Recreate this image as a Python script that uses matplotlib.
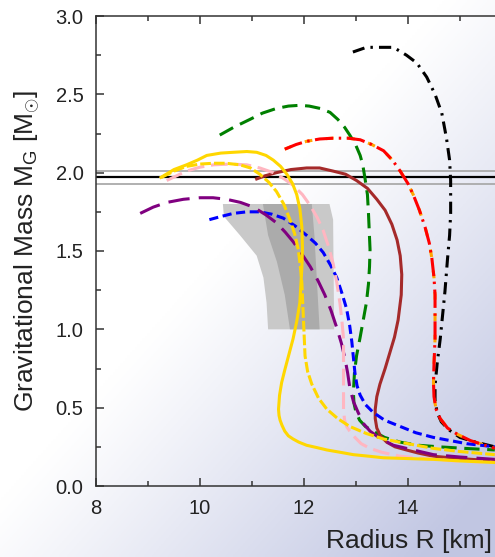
import matplotlib
matplotlib.use("Agg")
import matplotlib.pyplot as plt
import numpy as np

plt.rcParams['font.family'] = ['Liberation Sans', 'DejaVu Sans']
plt.rcParams['mathtext.fontset'] = 'custom'
plt.rcParams['mathtext.rm'] = 'Liberation Sans'
plt.rcParams['mathtext.it'] = 'Liberation Sans:italic'

# mass-radius curves (R in km, M in solar masses)
black_R = [12.94, 13.2, 13.53, 13.72, 13.97, 14.17, 14.36, 14.52, 14.65, 14.74, 14.80, 14.82, 14.82, 14.80, 14.76, 14.71,
           14.62, 14.56, 14.52, 14.52, 14.56, 14.64, 14.78, 15.0, 15.3, 15.67]
black_M = [2.77, 2.80, 2.80, 2.80, 2.75, 2.70, 2.61, 2.50, 2.38, 2.22, 2.08, 1.95, 1.74, 1.60, 1.45, 1.24,
           0.94, 0.78, 0.64, 0.55, 0.47, 0.41, 0.36, 0.31, 0.28, 0.25]

red_R = [11.63, 11.85, 12.05, 12.3, 12.56, 12.85, 13.08, 13.3, 13.53, 13.7, 13.85, 14.0, 14.1, 14.22, 14.33, 14.41,
         14.46, 14.50, 14.52, 14.52, 14.50, 14.49, 14.50, 14.54, 14.62, 14.76, 14.95, 15.2, 15.67]
red_M = [2.15, 2.18, 2.20, 2.215, 2.22, 2.22, 2.21, 2.18, 2.14, 2.08, 2.01, 1.93, 1.86, 1.76, 1.65, 1.55,
         1.45, 1.33, 1.22, 0.94, 0.78, 0.66, 0.57, 0.49, 0.43, 0.37, 0.33, 0.29, 0.24]

green_R = [10.38, 10.65, 10.96, 11.2, 11.47, 11.7, 11.92, 12.1, 12.31, 12.5, 12.65, 12.78, 12.88, 12.99, 13.08, 13.13,
           13.17, 13.22, 13.24, 13.27, 13.26, 13.24, 13.2, 13.14, 13.08, 13.01, 12.97, 12.95, 12.96, 13.0, 13.07,
           13.18, 13.33, 13.55, 13.85, 14.2, 14.6, 15.1, 15.67]
green_M = [2.24, 2.29, 2.34, 2.38, 2.41, 2.425, 2.43, 2.425, 2.41, 2.385, 2.34, 2.29, 2.24, 2.18, 2.11, 2.05,
           1.97, 1.86, 1.74, 1.51, 1.40, 1.29, 1.17, 1.06, 0.95, 0.83, 0.72, 0.60, 0.53, 0.47, 0.42,
           0.38, 0.35, 0.31, 0.28, 0.26, 0.25, 0.24, 0.23]

brown_R = [11.09, 11.25, 11.47, 11.75, 12.05, 12.3, 12.56, 12.8, 13.01, 13.22, 13.40, 13.56, 13.69, 13.79, 13.85,
           13.88, 13.87, 13.81, 13.74, 13.65, 13.56, 13.46, 13.40, 13.37, 13.37, 13.40, 13.47, 13.59, 13.75, 13.97,
           14.2, 14.49, 15.0, 15.67]
brown_M = [1.96, 1.98, 2.00, 2.02, 2.03, 2.03, 2.01, 1.99, 1.95, 1.90, 1.83, 1.76, 1.67, 1.57, 1.47,
           1.35, 1.22, 1.06, 0.95, 0.85, 0.75, 0.65, 0.57, 0.49, 0.43, 0.37, 0.32, 0.28, 0.25, 0.23,
           0.21, 0.19, 0.175, 0.16]

gold_R = [9.25, 9.35, 9.50, 9.74, 9.95, 10.13, 10.4, 10.64, 10.9, 11.09, 11.27, 11.41, 11.55, 11.67, 11.78, 11.86,
          11.92, 11.96, 11.97, 11.96, 11.92, 11.86, 11.79, 11.71, 11.63, 11.57, 11.53, 11.51, 11.52, 11.54, 11.58,
          11.63, 11.70, 11.79, 11.9, 12.05, 12.25, 12.44, 12.7, 12.95, 13.25, 13.53, 14.0, 14.49, 15.0, 15.67]
gold_M = [1.97, 1.99, 2.02, 2.05, 2.08, 2.11, 2.125, 2.13, 2.135, 2.13, 2.11, 2.08, 2.04, 1.99, 1.93, 1.86,
          1.77, 1.65, 1.52, 1.40, 1.17, 1.05, 0.94, 0.84, 0.74, 0.66, 0.58, 0.49, 0.45, 0.42, 0.385,
          0.35, 0.32, 0.30, 0.28, 0.26, 0.245, 0.23, 0.215, 0.20, 0.19, 0.18, 0.175, 0.17, 0.16, 0.15]

golddash_R = [9.26, 9.5, 9.74, 10.0, 10.26, 10.5, 10.77, 10.97, 11.15, 11.32, 11.47, 11.61, 11.73, 11.82, 11.89,
              11.93, 11.96, 11.99, 12.02, 12.07, 12.15, 12.28, 12.44, 12.65, 12.88, 13.2, 13.53, 14.0, 14.49, 15.0, 15.67]
golddash_M = [1.97, 2.01, 2.04, 2.055, 2.06, 2.06, 2.05, 2.03, 1.99, 1.94, 1.88, 1.80, 1.70, 1.61, 1.51,
              1.40, 1.29, 1.06, 0.83, 0.73, 0.65, 0.56, 0.49, 0.43, 0.38, 0.335, 0.30, 0.27, 0.24, 0.22, 0.20]

pink_R = [9.36, 9.55, 9.74, 10.0, 10.26, 10.58, 10.90, 11.15, 11.41, 11.62, 11.79, 11.97, 12.12, 12.26, 12.37, 12.47,
          12.56, 12.63, 12.69, 12.73, 12.76, 12.76, 12.76, 12.78, 12.82, 12.88, 12.98, 13.1, 13.27, 13.5, 13.85,
          14.3, 14.9, 15.67]
pink_M = [1.95, 1.98, 2.01, 2.035, 2.05, 2.055, 2.05, 2.03, 2.00, 1.96, 1.92, 1.86, 1.79, 1.71, 1.63, 1.53,
          1.42, 1.30, 1.17, 1.05, 0.94, 0.72, 0.49, 0.42, 0.38, 0.35, 0.31, 0.27, 0.24, 0.215, 0.19,
          0.175, 0.16, 0.15]

purple_R = [8.85, 9.1, 9.36, 9.68, 10.0, 10.25, 10.51, 10.78, 11.03, 11.27, 11.47, 11.64, 11.79, 11.96, 12.12, 12.27,
            12.40, 12.52, 12.63, 12.72, 12.79, 12.84, 12.88, 12.95, 13.04, 13.14, 13.27, 13.48, 13.72, 14.1, 14.49,
            15.0, 15.67]
purple_M = [1.74, 1.78, 1.81, 1.83, 1.84, 1.84, 1.83, 1.81, 1.78, 1.73, 1.68, 1.62, 1.56, 1.48, 1.40, 1.31,
            1.22, 1.12, 1.01, 0.91, 0.81, 0.72, 0.63, 0.54, 0.47, 0.40, 0.35, 0.30, 0.26, 0.23, 0.20,
            0.185, 0.17]

blue_R = [10.18, 10.4, 10.64, 10.9, 11.15, 11.38, 11.60, 11.83, 12.05, 12.22, 12.37, 12.51, 12.63, 12.73, 12.82,
          12.88, 12.92, 12.95, 12.98, 13.02, 13.08, 13.18, 13.33, 13.55, 13.85, 14.15, 14.49, 15.13, 15.67]
blue_M = [1.70, 1.72, 1.74, 1.75, 1.75, 1.735, 1.71, 1.66, 1.60, 1.55, 1.49, 1.41, 1.33, 1.23, 1.13,
          1.02, 0.92, 0.82, 0.72, 0.64, 0.58, 0.52, 0.47, 0.42, 0.38, 0.34, 0.31, 0.27, 0.25]

# constraint region (light and dark bands)
light_R = [10.44, 12.49, 12.56, 12.58, 11.31, 11.28, 11.22, 11.09, 10.77, 10.46]
light_M = [1.80, 1.80, 1.70, 1.00, 1.00, 1.17, 1.33, 1.47, 1.60, 1.72]
dark_R = [11.21, 12.15, 12.20, 12.30, 11.73, 11.63, 11.48, 11.31]
dark_M = [1.80, 1.80, 1.60, 1.00, 1.00, 1.22, 1.43, 1.60]

# measured maximum mass with its error band
m_obs = 1.97
m_err = [1.93, 2.01]

fig = plt.figure(figsize=(4.95, 5.57), dpi=100)

# background gradient, white top-left to pale blue bottom-right
bg = fig.add_axes([0, 0, 1, 1], zorder=-10)
xx, yy = np.meshgrid(np.linspace(0, 1, 200), np.linspace(0, 1, 200))
t = np.clip((xx + yy - 0.9) / 0.95, 0, 1) ** 1.1
c0 = np.array([1.0, 1.0, 1.0])
c1 = np.array([0.76, 0.78, 0.89])
img = c0[None, None, :] * (1 - t[..., None]) + c1[None, None, :] * t[..., None]
bg.imshow(img, extent=[0, 1, 0, 1], aspect='auto', origin='upper')
bg.axis('off')

ax = fig.add_axes([96 / 495, 71 / 557, 416 / 495, 470 / 557])
ax.patch.set_alpha(0)

ax.fill(light_R, light_M, color='#c9c9c9', lw=0, zorder=1)
ax.fill(dark_R, dark_M, color='#ababab', lw=0, zorder=1.1)

for m in m_err:
    ax.axhline(m, color='#aaaaaa', lw=1.3, zorder=2)
ax.axhline(m_obs, color='black', lw=1.6, zorder=2)

lw = 2.2
kw = dict(lw=lw, solid_joinstyle='round', dash_joinstyle='round')
ax.plot(black_R, black_M, color='black', dashes=(4, 2, 0.8, 2), zorder=3, **kw)
ax.plot(red_R, red_M, color='orange', dashes=(2.5, 4.5), zorder=3, **kw)
ax.plot(red_R, red_M, color='red', dashes=(6, 1.8, 0.8, 1.8), zorder=3.1, **kw)
ax.plot(green_R, green_M, color='green', dashes=(5, 2.5), zorder=3, **kw)
ax.plot(brown_R, brown_M, color='#a52a2a', zorder=3, **kw)
ax.plot(blue_R, blue_M, color='blue', dashes=(3, 1.5), zorder=3, **kw)
ax.plot(purple_R, purple_M, color='purple', dashes=(7, 3), zorder=3, **kw)
ax.plot(pink_R, pink_M, color='#ffb6c1', dashes=(5.5, 2.2), zorder=3, **kw)
ax.plot(golddash_R, golddash_M, color='#ffd700', dashes=(3.5, 1), zorder=3.2, **kw)
ax.plot(gold_R, gold_M, color='#ffd700', zorder=3.3, **kw)

ax.set_xlim(8, 16)
ax.set_ylim(0, 3.0)
ax.set_xticks([8, 10, 12, 14])
ax.set_xticks([9, 11, 13, 15], minor=True)
ax.set_yticks(np.arange(0, 3.01, 0.5))
ax.set_yticks(np.arange(0.25, 3.0, 0.5), minor=True)
ax.set_yticklabels(['%.1f' % v for v in np.arange(0, 3.01, 0.5)])

for s in ax.spines.values():
    s.set_color('#333333')
    s.set_linewidth(1.1)
ax.tick_params(which='both', direction='in', top=True, right=False, colors='#333333',
               labelsize=14.5, labelcolor='#222222')
ax.tick_params(which='major', length=6, width=1.1, pad=9)
ax.tick_params(which='minor', length=3.5, width=1.1)

ax.set_ylabel(r'Gravitational Mass M$_{\rm G}$ [M$_{\odot}$]', fontsize=19, labelpad=10, color='#222222')
fig.text(492 / 495, 9 / 557, 'Radius R [km]', ha='right', va='baseline', fontsize=19, color='#222222')

fig.savefig('out.png', dpi=100)
